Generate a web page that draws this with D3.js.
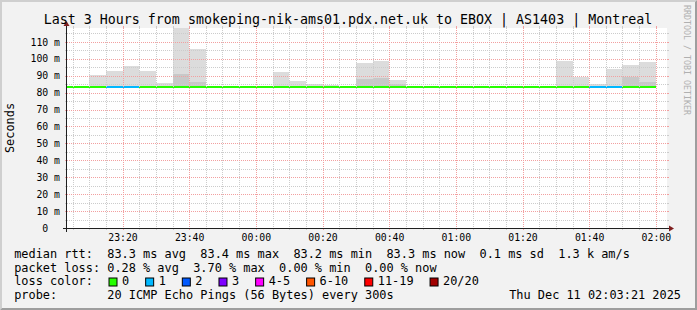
<!DOCTYPE html>
<html>
<head>
<meta charset="utf-8">
<script src="https://cdn.jsdelivr.net/npm/d3@7"></script>
<style>
body { margin: 0; background: #fff; }
svg text { font-family: "DejaVu Sans Mono", monospace; fill: #000; white-space: pre; }
</style>
</head>
<body>
<svg id="chart"></svg>
<script>
// end time of every 5 minute step
var steps = ["23:05","23:10","23:15","23:20","23:25","23:30","23:35","23:40","23:45","23:50","23:55","00:00",
             "00:05","00:10","00:15","00:20","00:25","00:30","00:35","00:40","00:45","00:50","00:55","01:00",
             "01:05","01:10","01:15","01:20","01:25","01:30","01:35","01:40","01:45","01:50","01:55","02:00"];
// ms
var medianRtt = [83.3,83.3,83.3,83.3,83.2,83.3,83.3,83.4,83.3,83.3,83.3,83.3,
                 83.3,83.3,83.3,83.3,83.3,83.3,83.4,83.3,83.3,83.3,83.2,83.3,
                 83.3,83.3,83.3,83.3,83.3,83.3,83.3,83.3,83.3,83.3,83.4,83.3];
var minRtt    = [83.1,83.1,83.0,83.1,83.0,83.1,83.1,83.2,83.1,83.1,83.1,83.1,
                 83.1,83.1,83.0,83.1,83.1,83.1,83.2,83.1,83.1,83.1,83.0,83.1,
                 83.1,83.1,83.1,83.1,83.1,83.1,83.0,83.1,83.1,83.1,83.2,83.1];
var maxRtt    = [83.7,83.8,90.4,92.7,95.7,92.7,85.6,118.2,105.7,83.8,83.7,83.8,
                 83.9,92.1,86.8,85.2,84.5,83.8,97.7,98.8,87.4,83.8,83.7,83.8,
                 83.7,83.8,83.7,83.8,83.7,83.8,98.6,89.4,84.9,93.9,96.3,98.0];
var innerRtt  = [null,null,null,null,null,null,null,91.0,86.4,null,null,null,
                 null,null,null,null,null,null,88.0,88.8,85.2,null,null,null,
                 null,null,null,null,null,null,null,null,null,null,89.2,86.2];
var lostPings = [0,0,0,1,1,0,0,0,0,0,0,0,
                 0,0,0,0,0,0,0,0,0,0,0,0,
                 0,0,0,0,0,0,0,0,1,1,0,0];

var lossLabels = ["0","1","2","3","4-5","6-10","11-19","20/20"];
var lossColors = ["#26ff00","#00b8ff","#0059ff","#7e00ff","#ff00ff","#ff5500","#ff0000","#a10000"];
var xTicks = ["23:20","23:40","00:00","00:20","00:40","01:00","01:20","01:40","02:00"];
var yTicks = [0,10,20,30,40,50,60,70,80,90,100,110];

var title = "Last 3 Hours from smokeping-nik-ams01.pdx.net.uk to EBOX | AS1403 | Montreal";
var legendRows = [
  "median rtt:  83.3 ms avg  83.4 ms max  83.2 ms min  83.3 ms now  0.1 ms sd  1.3 k am/s",
  "packet loss: 0.28 % avg  3.70 % max  0.00 % min  0.00 % now",
  "loss color:",
  "probe:       20 ICMP Echo Pings (56 Bytes) every 300s"
];

var W = 697, H = 310,
    x0 = 67, x1 = 667, y0 = 228, y1 = 28,
    startTime = new Date(2025, 11, 10, 23, 3, 21),
    endTime = new Date(2025, 11, 11, 2, 3, 21);

function toDate(s) {
    var h = +s.slice(0, 2), m = +s.slice(3);
    return new Date(2025, 11, h >= 12 ? 10 : 11, h, m);
}
function lossIndex(n) {
    if (n <= 3) return n;
    if (n <= 5) return 4;
    if (n <= 10) return 5;
    if (n <= 19) return 6;
    return 7;
}

var svg = d3.select("#chart").attr("width", W).attr("height", H),
    x = d3.scaleTime().domain([startTime, endTime]).range([x0, x1]),
    y = d3.scaleLinear().domain([0, d3.max(maxRtt)]).range([y0, y1]),
    data = steps.map(function(s, i) {
        var t = toDate(s);
        return {t0: d3.timeMinute.offset(t, -5), t: t, med: medianRtt[i], min: minRtt[i],
                max: maxRtt[i], inner: innerRtt[i], loss: lostPings[i]};
    });

// background + 3d border
svg.append("rect").attr("width", W).attr("height", H).attr("fill", "#f2f2f2");
svg.append("path").attr("fill", "#cfcfcf")
    .attr("d", "M0," + H + "L0,0L" + W + ",0L" + (W - 2) + ",2L2,2L2," + (H - 2) + "Z");
svg.append("path").attr("fill", "#9e9e9e")
    .attr("d", "M" + W + ",0L" + W + "," + H + "L0," + H + "L2," + (H - 2) + "L" + (W - 2) + "," + (H - 2) + "L" + (W - 2) + ",2Z");
svg.append("rect").attr("x", x0).attr("y", y1).attr("width", x1 - x0).attr("height", y0 - y1).attr("fill", "#fff");

svg.append("clipPath").attr("id", "plot")
  .append("rect").attr("x", x0).attr("y", y1).attr("width", x1 - x0).attr("height", y0 - y1);

var plot = svg.append("g").attr("clip-path", "url(#plot)");

// smoke
plot.selectAll("rect.smoke")
    .data(data)
  .enter().append("rect")
    .attr("class", "smoke")
    .attr("shape-rendering", "crispEdges")
    .attr("x", function(d) { return Math.round(x(d.t0)); })
    .attr("width", function(d) { return Math.round(x(d.t)) - Math.round(x(d.t0)); })
    .attr("y", function(d) { return Math.round(y(d.max)); })
    .attr("height", function(d) { return Math.round(y(d.min)) - Math.round(y(d.max)); })
    .attr("fill", "#dcdcdc");

plot.selectAll("rect.inner")
    .data(data.filter(function(d) { return d.inner != null; }))
  .enter().append("rect")
    .attr("class", "inner")
    .attr("shape-rendering", "crispEdges")
    .attr("x", function(d) { return Math.round(x(d.t0)); })
    .attr("width", function(d) { return Math.round(x(d.t)) - Math.round(x(d.t0)); })
    .attr("y", function(d) { return Math.round(y(d.inner)); })
    .attr("height", function(d) { return Math.round(y(d.min)) - Math.round(y(d.inner)); })
    .attr("fill", "#c8c8c8");

// grid
var minorY = y.ticks(20).filter(function(v) { return v > 0 && yTicks.indexOf(v) < 0; }),
    majorY = yTicks.filter(function(v) { return v > 0; }),
    xMajor = xTicks.map(toDate),
    minorX = d3.timeMinute.every(5).range(startTime, endTime).filter(function(t) {
        return !xMajor.some(function(m) { return +m === +t; });
    });

function hGrid(vals, col) {
    vals.forEach(function(v) {
        var yy = Math.round(y(v)) + 0.5;
        svg.append("line").attr("x1", x0).attr("x2", x1).attr("y1", yy).attr("y2", yy)
            .attr("stroke", col).attr("stroke-dasharray", "1,1");
        svg.append("line").attr("x1", x0 - 2).attr("x2", x0).attr("y1", yy).attr("y2", yy).attr("stroke", col);
        svg.append("line").attr("x1", x1).attr("x2", x1 + 2).attr("y1", yy).attr("y2", yy).attr("stroke", col);
    });
}
function vGrid(vals, col) {
    vals.forEach(function(t) {
        var xx = Math.round(x(t)) + 0.5;
        svg.append("line").attr("x1", xx).attr("x2", xx).attr("y1", y1).attr("y2", y0)
            .attr("stroke", col).attr("stroke-dasharray", "1,1");
        svg.append("line").attr("x1", xx).attr("x2", xx).attr("y1", y1 - 2).attr("y2", y1).attr("stroke", col);
        svg.append("line").attr("x1", xx).attr("x2", xx).attr("y1", y0).attr("y2", y0 + 2).attr("stroke", col);
    });
}
hGrid(minorY, "#cccccc");
vGrid(minorX, "#cccccc");
hGrid(majorY, "#f2a0a0");
vGrid(xMajor, "#f2a0a0");

// median line coloured by loss
plot.selectAll("line.median")
    .data(data)
  .enter().append("line")
    .attr("class", "median")
    .attr("shape-rendering", "crispEdges")
    .attr("x1", function(d) { return Math.round(x(d.t0)); })
    .attr("x2", function(d) { return Math.round(x(d.t)); })
    .attr("y1", function(d) { return Math.round(y(d.med)); })
    .attr("y2", function(d) { return Math.round(y(d.med)); })
    .attr("stroke-width", 2)
    .attr("stroke", function(d) { return lossColors[lossIndex(d.loss)]; });

// axes
svg.append("line").attr("x1", x0 - 4).attr("x2", x1 + 4).attr("y1", y0 + 0.5).attr("y2", y0 + 0.5).attr("stroke", "#1f1f1f");
svg.append("line").attr("x1", x0 - 0.5).attr("x2", x0 - 0.5).attr("y1", y0 + 4).attr("y2", y1 - 4).attr("stroke", "#1f1f1f");
svg.append("path").attr("fill", "#7f1f1f")
    .attr("d", "M" + (x1 + 2) + "," + (y0 - 2.5) + "L" + (x1 + 2) + "," + (y0 + 3.5) + "L" + (x1 + 7) + "," + (y0 + 0.5) + "Z");
svg.append("path").attr("fill", "#7f1f1f")
    .attr("d", "M" + (x0 - 3.5) + "," + (y1 - 2) + "L" + (x0 + 2.5) + "," + (y1 - 2) + "L" + (x0 - 0.5) + "," + (y1 - 7) + "Z");

var xAxis = svg.append("g")
    .attr("transform", "translate(0," + y0 + ")")
    .call(d3.axisBottom(x).tickValues(xMajor).tickFormat(d3.timeFormat("%H:%M")).tickSize(0).tickPadding(6));
xAxis.select(".domain").remove();
xAxis.attr("font-size", 9.8);

var yAxis = svg.append("g")
    .attr("transform", "translate(" + x0 + ",0)")
    .call(d3.axisLeft(y).tickValues(yTicks).tickFormat(function(v) { return v === 0 ? "0  " : v + " m"; })
        .tickSize(0).tickPadding(7));
yAxis.select(".domain").remove();
yAxis.attr("font-size", 9.8);

// texts
svg.append("text").attr("x", 348).attr("y", 24).attr("text-anchor", "middle")
    .attr("font-size", 13.3).text(title);

svg.append("text").attr("transform", "translate(14," + ((y0 + y1) / 2) + ") rotate(-90)")
    .attr("text-anchor", "middle").attr("font-size", 11.9).text("Seconds");

svg.append("text").attr("transform", "translate(684,5) rotate(90)")
    .attr("font-size", 8.3).style("fill", "#b0b0b0").text("RRDTOOL / TOBI OETIKER");

var lx = 14.2, adv = 7.16, rowY = [257.5, 271.5, 285.3, 299];
legendRows.forEach(function(r, i) {
    svg.append("text").attr("x", lx).attr("y", rowY[i]).attr("font-size", 11.9).text(r);
});

var cursor = 108.5;
lossLabels.forEach(function(l, i) {
    svg.append("rect").attr("x", cursor + 0.5).attr("y", 278).attr("width", 8).attr("height", 8)
        .attr("fill", lossColors[i]).attr("stroke", "#000");
    svg.append("text").attr("x", cursor + 13.5).attr("y", rowY[2]).attr("font-size", 11.9).text(l);
    cursor += 13.5 + l.length * adv + 16;
});

svg.append("text").attr("x", 681).attr("y", rowY[3]).attr("text-anchor", "end").attr("font-size", 11.9)
    .text(d3.timeFormat("%a %b %d %H:%M:%S %Y")(endTime));
</script>
</body>
</html>
